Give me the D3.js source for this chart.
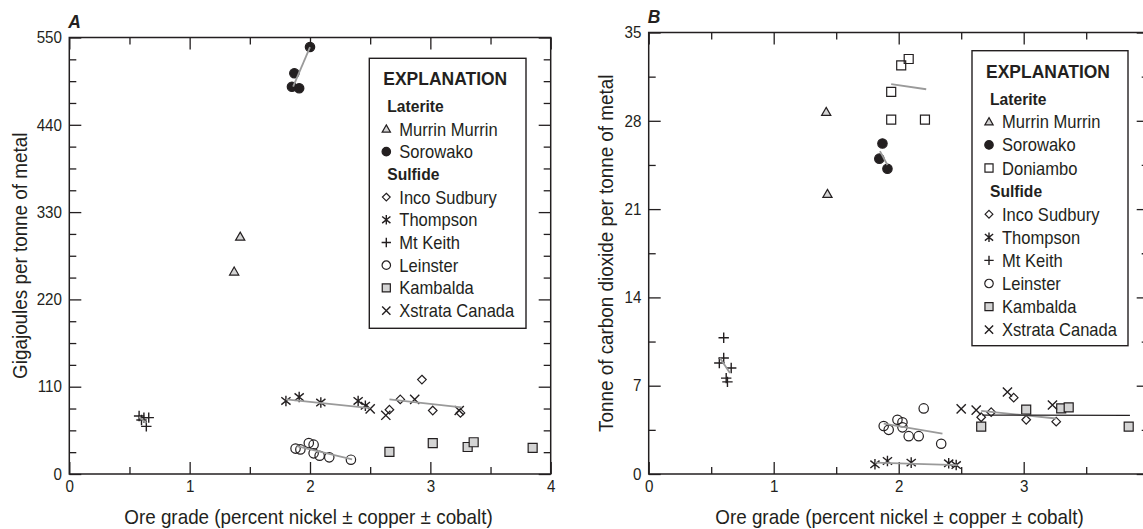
<!DOCTYPE html>
<html>
<head>
<meta charset="utf-8">
<script src="https://cdn.jsdelivr.net/npm/d3@7"></script>
<style>
  html, body { margin: 0; padding: 0; background: #fff; overflow: hidden; }
  svg { display: block; font-family: "Liberation Sans", Arial, sans-serif; }
</style>
</head>
<body>
<svg id="chart"></svg>
<script>
// ---- data: [ore grade, value] ----
const xTicks = [0, 1, 2, 3, 4];
const xMinor = [0.5, 1.5, 2.5, 3.5];

// panel A: energy, GJ per tonne
const yTicksA = [0, 110, 220, 330, 440, 550];
const murrinA = [[1.42, 299], [1.37, 255]];
const sorowakoA = [[2.00, 538], [1.87, 505], [1.85, 488], [1.91, 486]];
const incoA = [[2.66, 81], [2.75, 94], [2.93, 119], [3.02, 80], [3.25, 77]];
const thompsonA = [[1.80, 92], [1.91, 97], [2.09, 90], [2.40, 92], [2.46, 86]];
const mtKeithA = [[0.58, 73], [0.62, 71], [0.66, 71], [0.60, 68], [0.64, 60]];
const leinsterA = [[1.88, 32], [1.92, 31], [1.99, 39], [2.03, 37], [2.03, 26], [2.08, 23], [2.16, 21], [2.34, 18]];
const kambaldaA = [[2.66, 28], [3.02, 39], [3.31, 34], [3.36, 40], [3.85, 33]];
const xstrataA = [[2.50, 82], [2.63, 74], [2.87, 94], [3.24, 80]];

const trendsA = [
  [[1.86, 488], [2.00, 538]],
  [[1.80, 94], [2.50, 83]],
  [[2.66, 94], [3.26, 84]],
  [[1.89, 35], [2.35, 18.5]],
  [[0.58, 72], [0.64, 64]]
];

// panel B: tonne CO2 per tonne
const yTicksB = [0, 7, 14, 21, 28, 35];
const murrinB = [[1.42, 28.7], [1.43, 22.2]];
const sorowakoB = [[1.87, 26.2], [1.845, 25.0], [1.91, 24.2]];
const doniamboB = [[2.02, 32.4], [2.08, 32.9], [1.94, 30.3], [1.94, 28.1], [2.21, 28.1]];
const incoB = [[2.66, 4.5], [2.74, 4.9], [2.92, 6.05], [3.02, 4.3], [3.26, 4.15]];
const thompsonB = [[1.81, 0.77], [1.91, 1.03], [2.10, 0.9], [2.40, 0.85], [2.46, 0.71]];
const mtKeithB = [[0.60, 10.8], [0.60, 9.2], [0.565, 8.8], [0.66, 8.4], [0.62, 7.6], [0.63, 7.3]];
const leinsterB = [[2.20, 5.2], [1.88, 3.8], [1.92, 3.5], [1.99, 4.3], [2.03, 4.1], [2.03, 3.7], [2.08, 3.0], [2.16, 3.0], [2.34, 2.4]];
const kambaldaB = [[2.66, 3.75], [3.02, 5.1], [3.30, 5.2], [3.36, 5.28], [3.84, 3.75]];
const xstrataB = [[2.50, 5.17], [2.62, 5.07], [2.87, 6.5], [3.23, 5.47]];

const trendsB = [
  [[1.85, 25.6], [1.91, 24.5]],
  [[1.94, 30.9], [2.22, 30.5]],
  [[0.57, 9.2], [0.65, 8.0]],
  [[1.88, 4.0], [2.35, 3.2]],
  [[1.81, 0.9], [2.47, 0.7]],
  [[2.66, 5.0], [3.26, 4.4]]
];
const kambaldaTrendB = [[2.67, 4.67], [3.85, 4.65]];

const xLabel = "Ore grade (percent nickel \u00b1 copper \u00b1 cobalt)";

// ---- drawing ----
const width = 1143;
const height = 529;
const ink = "#231f20";
const grayFill = "#d4d4d4";
const trendColor = "#9a9a9a";
const squeeze = 0.92; // condensed look

let svg = d3.select("#chart").attr("width", width).attr("height", height);

const addText = (parent, x, y, str, size, opts = {}) => {
  let rot = opts.rotate ? ` rotate(${opts.rotate})` : "";
  return parent.append("text")
    .attr("transform", `translate(${x},${y})${rot} scale(${squeeze},1)`)
    .attr("text-anchor", opts.anchor || "start")
    .attr("fill", ink)
    .style("font-size", size + "px")
    .style("font-weight", opts.bold ? "bold" : "normal")
    .style("font-style", opts.italic ? "italic" : "normal")
    .text(str);
};

// symbol paths, centred on 0,0
const symbolPath = (type, k) => {
  let h;
  switch (type) {
    case "triangle": h = 4.6 * k; return `M0,${-h}L${h},${h * 0.75}L${-h},${h * 0.75}Z`;
    case "circle": case "dot": h = 4.7 * k;
      return `M${h},0A${h},${h} 0 1,1 ${-h},0A${h},${h} 0 1,1 ${h},0Z`;
    case "square": h = 4.5 * k; return `M${-h},${-h}H${h}V${h}H${-h}Z`;
    case "diamond": h = 4.3 * k; return `M0,${-h}L${h},0L0,${h}L${-h},0Z`;
    case "plus": h = 5.2 * k; return `M${-h},0H${h}M0,${-h}V${h}`;
    case "times": h = 4.6 * k; return `M${-h},${-h}L${h},${h}M${-h},${h}L${h},${-h}`;
    case "asterisk": h = 4.6 * k;
      return `M${-h},${-h * 0.8}L${h},${h * 0.8}M${-h},${h * 0.8}L${h},${-h * 0.8}M0,${-h * 1.15}V${h * 1.15}`;
  }
};

const styleOf = {
  triangle: { fill: grayFill, stroke: ink },
  dot: { fill: ink, stroke: ink },
  circle: { fill: "none", stroke: ink },
  square: { fill: "none", stroke: ink },
  graySquare: { fill: grayFill, stroke: ink },
  diamond: { fill: "none", stroke: ink },
  plus: { fill: "none", stroke: ink },
  times: { fill: "none", stroke: ink },
  asterisk: { fill: "none", stroke: ink }
};

const drawSymbol = (g, shape, x, y, k) => {
  let type = shape === "graySquare" ? "square" : shape;
  g.append("path")
    .attr("d", symbolPath(type, k))
    .attr("transform", `translate(${x},${y})`)
    .attr("fill", styleOf[shape].fill)
    .attr("stroke", styleOf[shape].stroke)
    .attr("stroke-width", shape === "plus" || shape === "asterisk" || shape === "times" ? 1.4 : 1.2);
};

const drawPanel = (cfg) => {
  let g = svg.append("g");
  let xScale = d3.scaleLinear().domain([0, 4]).range([cfg.left, cfg.right]);
  let yScale = d3.scaleLinear().domain([0, cfg.yMax]).range([cfg.bottom, cfg.top]);
  let yMinor = d3.range(0, cfg.yMax + 0.001, cfg.yStep).filter(v => !cfg.yTicks.includes(+v.toFixed(3)));

  const axisStyle = (sel) => {
    sel.select(".domain").remove();
    sel.selectAll("line").attr("stroke", ink).attr("stroke-width", 1.3);
    sel.selectAll("text").attr("fill", ink).style("font-size", "16.5px")
      .attr("transform", `scale(${squeeze},1)`);
  };
  // labels that would fall outside the page are left off (the reference is cropped there)
  const xFormat = (d) => xScale(d) > width - 6 ? "" : d3.format("d")(d);

  // bottom
  g.append("g").attr("transform", `translate(0,${cfg.bottom})`)
    .call(d3.axisBottom(xScale).tickValues(xTicks).tickSize(-12).tickPadding(6).tickFormat(xFormat))
    .call(axisStyle);
  g.append("g").attr("transform", `translate(0,${cfg.bottom})`)
    .call(d3.axisBottom(xScale).tickValues(xMinor).tickSize(-7).tickFormat(""))
    .call(axisStyle);
  // top
  g.append("g").attr("transform", `translate(0,${cfg.top})`)
    .call(d3.axisTop(xScale).tickValues(xTicks).tickSize(-12).tickFormat(""))
    .call(axisStyle);
  g.append("g").attr("transform", `translate(0,${cfg.top})`)
    .call(d3.axisTop(xScale).tickValues(xMinor).tickSize(-7).tickFormat(""))
    .call(axisStyle);
  // left
  g.append("g").attr("transform", `translate(${cfg.left},0)`)
    .call(d3.axisLeft(yScale).tickValues(cfg.yTicks).tickSize(-12).tickPadding(8).tickFormat(d3.format("d")))
    .call(axisStyle);
  g.append("g").attr("transform", `translate(${cfg.left},0)`)
    .call(d3.axisLeft(yScale).tickValues(yMinor).tickSize(-7).tickFormat(""))
    .call(axisStyle);
  // right
  g.append("g").attr("transform", `translate(${cfg.right},0)`)
    .call(d3.axisRight(yScale).tickValues(cfg.yTicks).tickSize(-12).tickFormat(""))
    .call(axisStyle);
  g.append("g").attr("transform", `translate(${cfg.right},0)`)
    .call(d3.axisRight(yScale).tickValues(yMinor).tickSize(-7).tickFormat(""))
    .call(axisStyle);

  g.append("rect")
    .attr("x", cfg.left).attr("y", cfg.top)
    .attr("width", cfg.right - cfg.left).attr("height", cfg.bottom - cfg.top)
    .attr("fill", "none").attr("stroke", ink).attr("stroke-width", 1.5);

  // axis titles
  addText(g, cfg.xLabelX, cfg.bottom + 50, xLabel, 20.5, { anchor: "middle" });
  addText(g, cfg.yLabelX, (cfg.top + cfg.bottom) / 2, cfg.yLabel, 20.5, { anchor: "middle", rotate: -90 });
  addText(g, cfg.left - 1, cfg.top - 10, cfg.letter, 19, { bold: true, italic: true });

  // points
  let pts = g.append("g");
  cfg.series.forEach(s => {
    s.values.forEach(d => drawSymbol(pts, s.shape, xScale(d[0]), yScale(d[1]), 1));
  });

  // trend lines
  let line = d3.line().x(d => xScale(d[0])).y(d => yScale(d[1]));
  g.selectAll(".trend")
    .data(cfg.trends)
    .enter()
    .append("path")
    .attr("class", "trend")
    .attr("d", line)
    .attr("fill", "none")
    .attr("stroke", trendColor)
    .attr("stroke-width", 1.8);
  if (cfg.darkTrend) {
    g.append("path").attr("d", line(cfg.darkTrend))
      .attr("fill", "none").attr("stroke", ink).attr("stroke-width", 1.1);
  }

  // legend
  let lg = g.append("g");
  let L = cfg.legend;
  lg.append("rect")
    .attr("x", L.x).attr("y", L.y).attr("width", L.w).attr("height", L.h)
    .attr("fill", "#fff").attr("stroke", ink).attr("stroke-width", 1.4);
  addText(lg, L.x + 14, L.y + 27, "EXPLANATION", 19, { bold: true });
  let rowY = L.y + 48;
  cfg.legendRows.forEach(r => {
    if (r.group) {
      addText(lg, L.x + 18, rowY + 6, r.group, 17, { bold: true });
    } else {
      drawSymbol(lg, r.shape, L.x + 17, rowY, 0.9);
      addText(lg, L.x + 30, rowY + 6.5, r.name, 18);
    }
    rowY += L.step;
  });
};

drawPanel({
  letter: "A",
  left: 69.3, right: 550.7, top: 37.5, bottom: 474,
  yMax: 550, yStep: 27.5, yTicks: yTicksA,
  xLabelX: 308.5,
  yLabel: "Gigajoules per tonne of metal", yLabelX: 27,
  series: [
    { shape: "triangle", values: murrinA },
    { shape: "dot", values: sorowakoA },
    { shape: "diamond", values: incoA },
    { shape: "asterisk", values: thompsonA },
    { shape: "plus", values: mtKeithA },
    { shape: "circle", values: leinsterA },
    { shape: "graySquare", values: kambaldaA },
    { shape: "times", values: xstrataA }
  ],
  trends: trendsA,
  legend: { x: 369.3, y: 58.3, w: 156.7, h: 270, step: 22.7 },
  legendRows: [
    { group: "Laterite" },
    { shape: "triangle", name: "Murrin Murrin" },
    { shape: "dot", name: "Sorowako" },
    { group: "Sulfide" },
    { shape: "diamond", name: "Inco Sudbury" },
    { shape: "asterisk", name: "Thompson" },
    { shape: "plus", name: "Mt Keith" },
    { shape: "circle", name: "Leinster" },
    { shape: "graySquare", name: "Kambalda" },
    { shape: "times", name: "Xstrata Canada" }
  ]
});

drawPanel({
  letter: "B",
  left: 648.7, right: 1148.7, top: 32.5, bottom: 474,
  yMax: 35, yStep: 3.5, yTicks: yTicksB,
  xLabelX: 899.5,
  yLabel: "Tonne of carbon dioxide per tonne of metal", yLabelX: 613,
  series: [
    { shape: "triangle", values: murrinB },
    { shape: "dot", values: sorowakoB },
    { shape: "square", values: doniamboB },
    { shape: "diamond", values: incoB },
    { shape: "asterisk", values: thompsonB },
    { shape: "plus", values: mtKeithB },
    { shape: "circle", values: leinsterB },
    { shape: "graySquare", values: kambaldaB },
    { shape: "times", values: xstrataB }
  ],
  trends: trendsB,
  darkTrend: kambaldaTrendB,
  legend: { x: 972, y: 50.7, w: 156, h: 295, step: 23.1 },
  legendRows: [
    { group: "Laterite" },
    { shape: "triangle", name: "Murrin Murrin" },
    { shape: "dot", name: "Sorowako" },
    { shape: "square", name: "Doniambo" },
    { group: "Sulfide" },
    { shape: "diamond", name: "Inco Sudbury" },
    { shape: "asterisk", name: "Thompson" },
    { shape: "plus", name: "Mt Keith" },
    { shape: "circle", name: "Leinster" },
    { shape: "graySquare", name: "Kambalda" },
    { shape: "times", name: "Xstrata Canada" }
  ]
});
</script>
</body>
</html>
